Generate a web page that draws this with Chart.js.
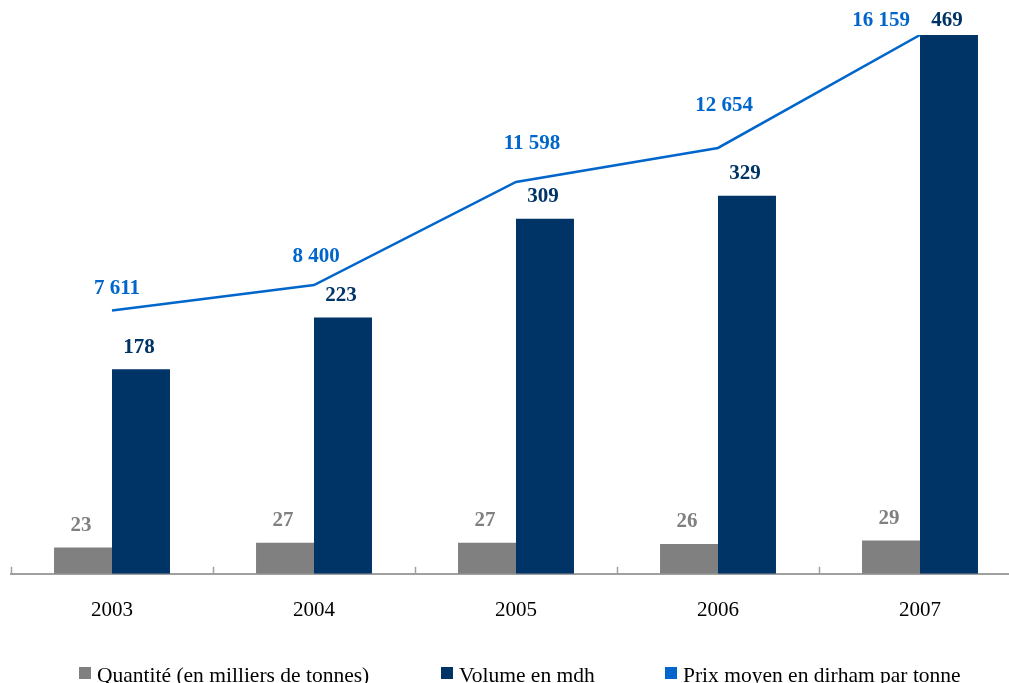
<!DOCTYPE html>
<html>
<head>
<meta charset="utf-8">
<script src="https://cdn.jsdelivr.net/npm/chart.js@4"></script>
<style>
  html, body { margin: 0; padding: 0; background: #fff; overflow: hidden; width: 1009px; height: 683px; }
  #wrap { position: relative; width: 1009px; height: 683px; overflow: hidden; }
  #chart { position: absolute; left: 0; top: 0; }
  #legend { position: absolute; left: 0; top: 664px; width: 1009px; height: 22px;
            font: 21.5px 'Liberation Serif', 'Times New Roman', serif; line-height: 22px; color: #000; }
  #legend .item { position: absolute; top: 0; white-space: nowrap; }
  #legend .box { position: absolute; left: 0; top: 3px; width: 12px; height: 12px; }
  #legend .txt { position: absolute; left: 18px; top: 0; }
</style>
</head>
<body>
<div id="wrap">
  <canvas id="chart" width="1030" height="683"></canvas>
  <div id="legend"></div>
</div>
<script>
// data
var years = ["2003", "2004", "2005", "2006", "2007"];
var quantite = [23, 27, 27, 26, 29];
var volume = [178, 223, 309, 329, 469];
var prix = [7611, 8400, 11598, 12654, 16159];
var prixLabels = ["7 611", "8 400", "11 598", "12 654", "16 159"];

var serif = "'Liberation Serif', 'Times New Roman', serif";

// draws value labels and the small tick marks between the years
var labelsPlugin = {
    id: 'valueLabels',
    afterDatasetsDraw: function (chart, args, opts) {
        var ctx = chart.ctx;
        var nudge = opts.lineNudge || [];
        ctx.save();
        ctx.font = "bold 21px " + serif;
        ctx.textAlign = 'center';
        ctx.textBaseline = 'middle';
        chart.data.datasets.forEach(function (ds, di) {
            var meta = chart.getDatasetMeta(di);
            meta.data.forEach(function (el, i) {
                var txt, dx = -2, dy = -22;
                if (ds.type === 'line') {
                    txt = prixLabels[i];
                    dx = nudge[i] ? nudge[i][0] : 0;
                    dy = nudge[i] ? nudge[i][1] : -22;
                } else {
                    txt = String(ds.data[i]);
                }
                ctx.fillStyle = ds.labelColor;
                // keep labels from running off the top edge
                ctx.fillText(txt, el.x + dx, Math.max(el.y + dy, 21));
            });
        });
        // tick marks on the axis, between categories
        var xs = chart.scales.x, bottom = chart.chartArea.bottom;
        var half = (xs.getPixelForValue(1) - xs.getPixelForValue(0)) / 2;
        ctx.strokeStyle = '#a0a0a0';
        ctx.lineWidth = 1.5;
        for (var k = 0; k <= years.length; k++) {
            var px = Math.round(xs.getPixelForValue(0) - half + k * half * 2) + 0.5;
            ctx.beginPath();
            ctx.moveTo(px, bottom - 7);
            ctx.lineTo(px, bottom);
            ctx.stroke();
        }
        ctx.restore();
    }
};

var ctx = document.getElementById('chart').getContext('2d');
var chart = new Chart(ctx, {
    data: {
        labels: years,
        datasets: [{
            type: 'line',
            label: 'Prix moyen en dirham par tonne',
            data: prix,
            yAxisID: 'y2',
            borderColor: '#0066cc',
            backgroundColor: '#0066cc',
            borderWidth: 2.5,
            pointRadius: 0,
            tension: 0,
            order: 0,
            labelColor: '#0066cc'
        }, {
            type: 'bar',
            label: 'Quantité (en milliers de tonnes)',
            data: quantite,
            yAxisID: 'y',
            backgroundColor: '#808080',
            order: 1,
            labelColor: '#808080'
        }, {
            type: 'bar',
            label: 'Volume en mdh',
            data: volume,
            yAxisID: 'y',
            backgroundColor: '#003366',
            order: 1,
            labelColor: '#003366'
        }]
    },
    options: {
        responsive: false,
        animation: false,
        categoryPercentage: 0.574,
        barPercentage: 1.0,
        layout: { padding: { top: 35, left: 11, right: 9, bottom: 44 } },
        scales: {
            x: {
                grid: { display: false },
                border: { display: true, color: '#a0a0a0', width: 2 },
                ticks: { color: '#000', font: { family: serif, size: 21 }, padding: 16 }
            },
            y: { display: false, min: 0, max: 469 },
            y2: { display: false, min: -560, max: 16159 }
        },
        plugins: {
            tooltip: { enabled: false },
            legend: { display: false },
            valueLabels: {
                lineNudge: [[5, -22], [2, -28], [16, -38], [6, -42], [-39, -14]]
            }
        }
    },
    plugins: [labelsPlugin]
});

// legend built from the datasets, in the original order
var legendOrder = [1, 2, 0];
var legendLeft = [79, 441, 665];
var legend = document.getElementById('legend');
legendOrder.forEach(function (di, n) {
    var ds = chart.data.datasets[di];
    var item = document.createElement('div');
    item.className = 'item';
    item.style.left = legendLeft[n] + 'px';
    var box = document.createElement('span');
    box.className = 'box';
    box.style.background = ds.backgroundColor;
    var txt = document.createElement('span');
    txt.className = 'txt';
    txt.textContent = ds.label;
    item.appendChild(box);
    item.appendChild(txt);
    legend.appendChild(item);
});
</script>
</body>
</html>
